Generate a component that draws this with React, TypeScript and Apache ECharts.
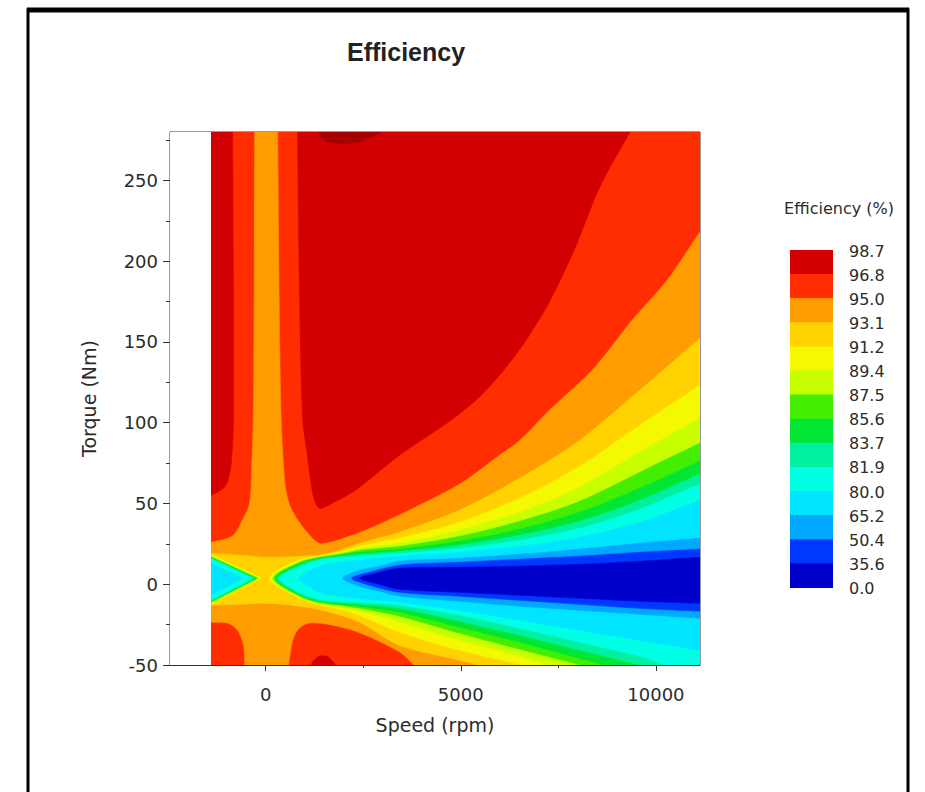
import React, { useEffect, useRef } from "react";
import * as echarts from "echarts";

// ---------- texts ----------
const TITLE = "Efficiency";
const X_NAME = "Speed (rpm)";
const Y_NAME = "Torque (Nm)";
const LEGEND_TITLE = "Efficiency (%)";

// ---------- axes ----------
const SPEED_MIN = -2450;
const SPEED_MAX = 11130;
const TORQUE_MIN = -50;
const TORQUE_MAX = 280;
const SPEED_TICKS = [0, 5000, 10000];
const SPEED_MINOR_TICKS = [2500, 7500];
const TORQUE_TICKS = [-50, 0, 50, 100, 150, 200, 250];
const TORQUE_MINOR_TICKS = [-25, 25, 75, 125, 175, 225, 275];

// ---------- contour levels (legend order, top to bottom) ----------
const LEVEL_LABELS = ["98.7", "96.8", "95.0", "93.1", "91.2", "89.4", "87.5", "85.6", "83.7", "81.9", "80.0", "65.2", "50.4", "35.6", "0.0"];
const BAND_COLORS = [
  "#D20000", // 96.8-98.7
  "#FF2D00", // 95.0-96.8
  "#FF9C00", // 93.1-95.0
  "#FFD200", // 91.2-93.1
  "#F4F800", // 89.4-91.2
  "#C8FF00", // 87.5-89.4
  "#44EE00", // 85.6-87.5
  "#00E632", // 83.7-85.6
  "#00F0A0", // 81.9-83.7
  "#00FFE4", // 80.0-81.9
  "#00E4FF", // 65.2-80.0
  "#00A8FF", // 50.4-65.2
  "#0038FF", // 35.6-50.4
  "#0000CC", // 0.0-35.6
];
const PEAK_COLOR = "#A60000"; // > 98.7

// ---------- contour regions read from the map: [speed rpm, torque Nm] ----------
// (points beyond the measured range only continue a contour past the plot edge; they are clipped)
const MEASURED_AREA = [[-1400, -50], [11130, -50], [11130, 280], [-1400, 280]];
const UNMEASURED_AREA = [[SPEED_MIN, -50], [-1400, -50], [-1400, 280], [SPEED_MIN, 280]];

const ABOVE_968_MAIN = [[820, 330], [820, 280], [872, 176], [949, 102], [1051, 83], [1154, 64], [1231, 54], [1385, 47], [1770, 51], [2154, 56], [2410, 60], [3436, 80], [4718, 101], [5564, 118], [6436, 143], [7205, 172], [7872, 205], [8564, 246], [9333, 280], [9718, 297], [9718, 330]];
const ABOVE_968_LEFT = [[-1700, 330], [-846, 330], [-846, 280], [-820, 114], [-872, 77], [-1026, 61], [-1400, 55], [-1700, 52]];
const ABOVE_968_SPOT = [[1179, -50], [1333, -45], [1564, -44.6], [1769, -50]];
const ABOVE_987_TOP = [[1385, 280], [1500, 275], [1800, 273], [2400, 274], [2923, 280]];

const BELOW_950 = [[-282, 330], [308, 330], [308, 280], [385, 114], [487, 64], [615, 49], [872, 38], [1179, 29], [1436, 25], [2410, 32], [3436, 43], [4974, 62], [6000, 80], [6513, 89], [7282, 108], [8385, 133], [9410, 164], [10282, 188], [11130, 218], [11800, 240], [11800, -80], [4154, -58.4], [3795, -50], [3436, -42], [2410, -30], [1641, -25], [1128, -24], [872, -27], [718, -33], [641, -41], [590, -50], [564, -56.4], [-525, -56.4], [-538, -50], [-564, -38], [-718, -28.5], [-974, -24], [-1400, -23.5], [-1700, -23.5], [-1700, 26], [-1400, 26], [-846, 30], [-590, 40], [-410, 50], [-359, 71], [-308, 114], [-282, 280]];

const BELOW_931 = [[-1700, 19.2], [-1400, 19.2], [-667, 18], [0, 16.7], [872, 17.3], [1641, 19.2], [2410, 25.4], [3436, 32.2], [4974, 45.9], [6513, 65.7], [8051, 89.2], [9590, 120.2], [11130, 152.4], [11800, 168], [11800, -80], [5897, -53], [5436, -50], [4974, -47.1], [3436, -37.8], [2410, -23.5], [1641, -17.3], [872, -13.6], [0, -11.8], [-667, -12.4], [-1400, -13], [-1700, -13]];

const LEFT_BELOW_912 = [[-1400, 18.3], [-103, 3.7], [-1400, -12.4]];
const LEFT_BELOW_894 = [[-1400, 17.7], [-154, 3.7], [-1400, -11.8]];
const LEFT_BELOW_875 = [[-1400, 17.0], [-205, 3.7], [-1400, -11.2]];
const LEFT_BELOW_856 = [[-1400, 16.7], [-231, 3.7], [-1400, -10.8]];
const LEFT_BELOW_837 = [[-1400, 16.4], [-282, 3.7], [-1400, -10.5]];
const LEFT_BELOW_819 = [[-1400, 15.8], [-333, 3.7], [-1400, -9.9]];
const LEFT_BELOW_800 = [[-1400, 13.0], [-590, 3.7], [-1400, -6.8]];

const RIGHT_BELOW_912 = [[103, 3.7], [872, 15.2], [1385, 17.3], [1897, 19.8], [2410, 23.5], [3436, 28.5], [4974, 38.4], [6513, 53.3], [8051, 73.1], [9590, 98.5], [11130, 123.3], [11800, 135], [11800, -80], [8051, -55.3], [6590, -50], [6513, -49.6], [4974, -40.9], [3436, -29.7], [2410, -19.2], [1897, -15.5], [1385, -12.7], [872, -8.7]];
const RIGHT_BELOW_894 = [[154, 3.7], [872, 14.3], [1385, 17.0], [1897, 19.2], [2410, 22.3], [3436, 25.4], [4974, 33.5], [6513, 44.6], [8051, 60.1], [9590, 81.8], [11130, 102.9], [11800, 112], [11800, -80], [8308, -57.6], [7282, -50], [6513, -44.6], [4974, -34.7], [3436, -23.5], [2410, -16.7], [1897, -14.3], [1385, -12.1], [872, -8.1]];
const RIGHT_BELOW_875 = [[205, 3.7], [872, 13.6], [1385, 16.7], [1897, 18.6], [2410, 21.1], [3436, 23.5], [4974, 29.7], [6513, 39.0], [8051, 51.4], [9590, 69.4], [11130, 87.4], [11800, 95], [11800, -80], [9077, -57], [8051, -50], [6513, -40.3], [4974, -30.4], [3436, -19.8], [2410, -14.9], [1897, -13.0], [1385, -11.5], [872, -7.4]];
const RIGHT_BELOW_856 = [[256, 3.7], [872, 13.0], [1385, 16.4], [1897, 18.0], [2410, 19.8], [3436, 21.7], [4974, 26.6], [6513, 34.1], [8051, 44.6], [9590, 59.5], [11130, 76.2], [11800, 83.5], [11800, -80], [9590, -56.2], [8692, -50], [8051, -45.9], [6513, -35.9], [4974, -26.6], [3436, -17.3], [2410, -13.6], [1897, -12.4], [1385, -10.8], [872, -6.8]];
const RIGHT_BELOW_837 = [[308, 3.7], [872, 11.8], [1385, 15.8], [1897, 17.3], [2410, 18.6], [3436, 20.4], [4974, 24.2], [6513, 30.4], [8051, 39.0], [9590, 52.0], [11130, 68.2], [11800, 75], [11800, -80], [10615, -56.2], [9590, -50], [8051, -40.9], [6513, -31.6], [4974, -22.9], [3436, -14.9], [2410, -12.4], [1897, -11.5], [1385, -10.2], [872, -6.2]];
const RIGHT_BELOW_819 = [[359, 3.7], [872, 10.5], [1385, 14.9], [1897, 16.4], [2410, 17.3], [3436, 19.2], [4974, 22.3], [6513, 27.3], [8051, 34.7], [9590, 46.5], [11130, 62.0], [11800, 68.7], [11800, -80], [11130, -57.8], [10230, -50], [9590, -44.6], [8051, -35.9], [6513, -27.3], [4974, -19.2], [3436, -13.0], [2410, -11.2], [1897, -10.5], [1385, -9.3], [872, -5.0]];
const RIGHT_BELOW_800 = [[872, 3.7], [1385, 11.2], [1897, 13.6], [2410, 14.9], [3436, 17.3], [4974, 19.8], [6513, 23.5], [8051, 29.1], [9590, 38.4], [11130, 52.0], [11800, 58], [11800, -43.6], [11130, -40.9], [9590, -34.7], [8051, -28.5], [6513, -22.3], [4974, -16.1], [3436, -11.2], [2410, -8.7], [1897, -7.4], [1385, -5.0]];
const RIGHT_BELOW_652 = [[1974, 3.7], [2410, 8.7], [2923, 11.2], [3436, 14.3], [4974, 16.1], [6513, 18.6], [8051, 21.7], [9590, 25.4], [11130, 28.5], [11800, 30], [11800, -22.2], [11130, -21.1], [9590, -18.6], [8051, -16.1], [6513, -13.6], [4974, -10.5], [3436, -7.4], [2923, -4.3], [2410, -1.2]];
const RIGHT_BELOW_504 = [[2205, 3.7], [2667, 7.4], [3436, 11.8], [4974, 13.6], [6513, 15.5], [8051, 17.3], [9590, 19.8], [11130, 21.7], [11800, 22.5], [11800, -17.5], [11130, -16.7], [9590, -14.9], [8051, -12.4], [6513, -9.9], [4974, -7.4], [3436, -5.0], [2667, -0.6]];
const RIGHT_BELOW_356 = [[2410, 3.7], [2923, 7.4], [3436, 9.9], [4974, 10.5], [6513, 11.2], [8051, 12.4], [9590, 14.3], [11130, 16.7], [11800, 17.7], [11800, -12.4], [11130, -11.8], [9590, -10.5], [8051, -8.7], [6513, -6.8], [4974, -5.0], [3436, -3.1], [2923, 0]];

// painting order: each later region lies inside the sub-level set of the previous
// band -1 = above 98.7, band -2 = white (no data)
const REGIONS: { band: number; pts: number[][]; smooth: number }[] = [
  { band: 1, pts: MEASURED_AREA, smooth: 0 },
  { band: 0, pts: ABOVE_968_MAIN, smooth: 0.3 },
  { band: 0, pts: ABOVE_968_LEFT, smooth: 0.3 },
  { band: 0, pts: ABOVE_968_SPOT, smooth: 0.3 },
  { band: -1, pts: ABOVE_987_TOP, smooth: 0.3 },
  { band: 2, pts: BELOW_950, smooth: 0.3 },
  { band: 3, pts: BELOW_931, smooth: 0.3 },
  { band: 4, pts: LEFT_BELOW_912, smooth: 0 },
  { band: 4, pts: RIGHT_BELOW_912, smooth: 0.3 },
  { band: 5, pts: LEFT_BELOW_894, smooth: 0 },
  { band: 5, pts: RIGHT_BELOW_894, smooth: 0.3 },
  { band: 6, pts: LEFT_BELOW_875, smooth: 0 },
  { band: 6, pts: RIGHT_BELOW_875, smooth: 0.3 },
  { band: 7, pts: LEFT_BELOW_856, smooth: 0 },
  { band: 7, pts: RIGHT_BELOW_856, smooth: 0.3 },
  { band: 8, pts: LEFT_BELOW_837, smooth: 0 },
  { band: 8, pts: RIGHT_BELOW_837, smooth: 0.3 },
  { band: 9, pts: LEFT_BELOW_819, smooth: 0 },
  { band: 9, pts: RIGHT_BELOW_819, smooth: 0.3 },
  { band: 10, pts: LEFT_BELOW_800, smooth: 0 },
  { band: 10, pts: RIGHT_BELOW_800, smooth: 0.3 },
  { band: 11, pts: RIGHT_BELOW_652, smooth: 0.3 },
  { band: 12, pts: RIGHT_BELOW_504, smooth: 0.3 },
  { band: 13, pts: RIGHT_BELOW_356, smooth: 0.3 },
  { band: -2, pts: UNMEASURED_AREA, smooth: 0 },
];

const FONT = "DejaVu Sans";
const TEXT_COLOR = "#2b2b2b";

function buildOption() {
  const colorOf = (b: number) => (b === -2 ? "#ffffff" : b === -1 ? PEAK_COLOR : BAND_COLORS[b]);

  const BAR_X = 790;
  const BAR_Y = 250;
  const BAR_W = 43;
  const BAND_H = 24.1;

  const legendItems: any[] = [];
  BAND_COLORS.forEach((c, i) => {
    legendItems.push({
      type: "rect",
      shape: { x: BAR_X, y: BAR_Y + i * BAND_H, width: BAR_W, height: BAND_H + 0.6 },
      style: { fill: c },
    });
  });
  LEVEL_LABELS.forEach((t, i) => {
    legendItems.push({
      type: "text",
      x: 849,
      y: BAR_Y + 1 + i * BAND_H,
      style: { text: t, fill: TEXT_COLOR, fontFamily: FONT, fontSize: 16, align: "left", verticalAlign: "middle" },
    });
  });
  legendItems.push({
    type: "text",
    x: 839,
    y: 208,
    style: { text: LEGEND_TITLE, fill: TEXT_COLOR, fontFamily: FONT, fontSize: 16, align: "center", verticalAlign: "middle" },
  });

  const labelStyle = { color: TEXT_COLOR, fontFamily: FONT, fontSize: 18 };
  const plain = (v: number) => String(v);

  return {
    animation: false,
    backgroundColor: "#ffffff",
    title: {
      text: TITLE,
      left: 401,
      top: 34,
      textAlign: "center",
      textStyle: { fontFamily: "Liberation Sans", fontWeight: "bold", fontSize: 25, color: "#222" },
    },
    grid: {
      left: 170,
      top: 132,
      width: 530,
      height: 533,
      show: true,
      backgroundColor: "#ffffff",
      borderColor: "#333",
      borderWidth: 1,
      containLabel: false,
    },
    xAxis: [
      {
        type: "value",
        min: SPEED_MIN,
        max: SPEED_MAX,
        position: "bottom",
        name: X_NAME,
        nameLocation: "middle",
        nameGap: 50,
        nameTextStyle: { ...labelStyle, fontSize: 19 },
        axisLine: { show: true, onZero: false, lineStyle: { color: "#333", width: 1 } },
        axisTick: { show: true, customValues: SPEED_TICKS, length: 6, lineStyle: { color: "#333" } },
        axisLabel: { customValues: SPEED_TICKS, margin: 20, formatter: plain, ...labelStyle },
        splitLine: { show: false },
      },
      {
        type: "value",
        min: SPEED_MIN,
        max: SPEED_MAX,
        position: "bottom",
        axisLine: { show: false, onZero: false },
        axisTick: { show: true, customValues: SPEED_MINOR_TICKS, length: 3, lineStyle: { color: "#333" } },
        axisLabel: { show: false },
        splitLine: { show: false },
      },
    ],
    yAxis: [
      {
        type: "value",
        min: TORQUE_MIN,
        max: TORQUE_MAX,
        position: "left",
        name: Y_NAME,
        nameLocation: "middle",
        nameGap: 72,
        nameTextStyle: { ...labelStyle, fontSize: 19 },
        axisLine: { show: true, onZero: false, lineStyle: { color: "#333", width: 1 } },
        axisTick: { show: true, customValues: TORQUE_TICKS, length: 7, lineStyle: { color: "#333" } },
        axisLabel: { customValues: TORQUE_TICKS, margin: 12, formatter: plain, ...labelStyle },
        splitLine: { show: false },
      },
      {
        type: "value",
        min: TORQUE_MIN,
        max: TORQUE_MAX,
        position: "left",
        axisLine: { show: false, onZero: false },
        axisTick: { show: true, customValues: TORQUE_MINOR_TICKS, length: 4, lineStyle: { color: "#333" } },
        axisLabel: { show: false },
        splitLine: { show: false },
      },
    ],
    series: [
      {
        type: "custom",
        xAxisIndex: 0,
        yAxisIndex: 0,
        clip: true,
        silent: true,
        data: REGIONS.map((r, i) => [r.pts[0][0], r.pts[0][1], i]),
        renderItem: (_params: any, api: any) => {
          const r = REGIONS[api.value(2)];
          const color = colorOf(r.band);
          const shape: any = { points: r.pts.map((p) => api.coord(p)) };
          if (r.smooth) shape.smooth = r.smooth;
          return {
            type: "polygon",
            shape,
            style: { fill: color, stroke: color, lineWidth: r.band === -2 ? 0 : 0.6 },
          };
        },
      },
    ],
    graphic: [
      { type: "group", children: legendItems },
      {
        type: "rect",
        z: 100,
        shape: { x: 28, y: 10, width: 880, height: 800 },
        style: { fill: "none", stroke: "#000", lineWidth: 3 },
      },
      {
        type: "line",
        z: 100,
        shape: { x1: 27, y1: 10, x2: 909, y2: 10 },
        style: { stroke: "#000", lineWidth: 5 },
      },
    ],
  };
}

export default function App() {
  const ref = useRef<HTMLDivElement>(null);
  useEffect(() => {
    if (!ref.current) return;
    const chart = echarts.init(ref.current, undefined, { renderer: "svg" });
    chart.setOption(buildOption() as any);
    return () => chart.dispose();
  }, []);
  return (
    <div
      ref={ref}
      style={{ position: "fixed", left: 0, top: 0, width: 925, height: 792, background: "#fff" }}
    />
  );
}
